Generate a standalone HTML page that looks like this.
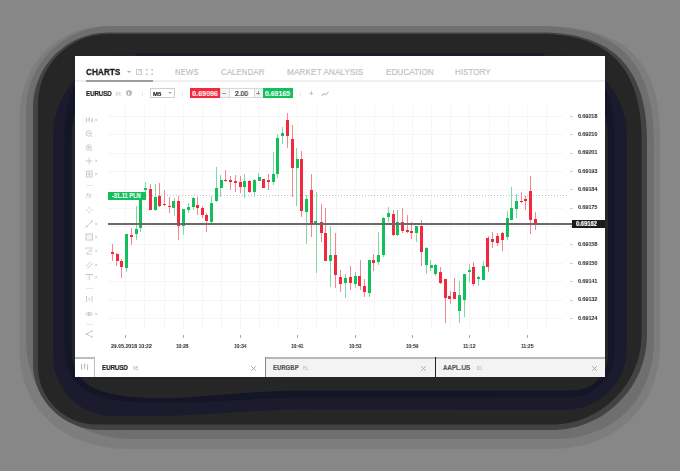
<!DOCTYPE html>
<html><head><meta charset="utf-8"><style>
html,body{margin:0;padding:0;}
body{width:680px;height:471px;overflow:hidden;position:relative;background:#878787;font-family:"Liberation Sans",sans-serif;}
.b{position:absolute;box-sizing:content-box;}
.t{position:absolute;white-space:nowrap;transform-origin:0 0;will-change:transform;}
</style></head><body>
<svg class="b" style="left:0;top:0" width="680" height="471" viewBox="0 0 680 471"><defs><clipPath id="nc"><path d="M53,136 A83,83 0 0 1 136,53 L544,53 A83,83 0 0 1 627,136 L627,348 A62,62 0 0 1 565,410 L300,409.5 C250,410 210,415 160,416 L113,416 A60,60 0 0 1 53,356 Z"/></clipPath></defs><path d="M19.5,121 C19.5,64.00 55.50,26 109.5,26 L540,26 C624.00,26 660,59.00 660,136 L660,344 C660,407.00 616.00,449 550,449 L129.5,449 C63.50,449 19.5,409.00 19.5,349 Z" fill="#7d7d7d"/><path d="M26,111 C26,64.25 64.25,26 111,26 L539,26 C619.50,26 654,62.00 654,146 L654,339 C654,399.00 614.00,439 554,439 L136,439 C70.00,439 26,399.00 26,339 Z" fill="#6f6f6f"/><path d="M33,107.5 C33,66.25 66.75,32.5 108,32.5 L542,32.5 C612.35,32.5 647,68.14 647,140.5 L647,335 C647,387.25 604.25,430 552,430 L101,430 C63.60,430 33,400.30 33,364 Z" fill="#434343"/><path d="M38,104 C38,65.50 69.50,34 108,34 L541.5,34 C608.50,34 641.5,68.65 641.5,139 L641.5,334.5 C641.5,384.00 601.00,424.5 551.5,424.5 L96,424.5 C64.10,424.5 38,398.40 38,366.5 Z" fill="#262626"/><path d="M53,136 A83,83 0 0 1 136,53 L544,53 A83,83 0 0 1 627,136 L627,348 A62,62 0 0 1 565,410 L300,409.5 C250,410 210,415 160,416 L113,416 A60,60 0 0 1 53,356 Z" fill="#1b1b2d"/><g clip-path="url(#nc)"><path d="M64.5,133.5 A120,120 0 0 1 184.5,13.5 L494.6,13.5 A120,120 0 0 1 614.6,133.5 L614.6,352 A45,45 0 0 1 569.6,397 L300,397.5 C250,398 210,403 160,403 C100,402 64.5,395 64.5,345 Z" fill="#151528"/><path d="M71.6,140 A120,120 0 0 1 191.6,20 L488,20 A120,120 0 0 1 608,140 L608,355.5 A35,35 0 0 1 573,390.5 L300,390.5 C250,391 210,397 160,398.5 C105,397 71.6,390 71.6,349 Z" fill="#262626"/></g></svg>
<div class="b" style="left:136px;top:53px;width:408px;height:3px;background:#1b1b2d;"></div>
<div class="b" style="left:75px;top:56px;width:530px;height:321px;background:#fff;"></div>
<div class="t" style="left:86.00px;top:68.00px;font-size:9.2px;line-height:9.2px;color:#1a1a1a;font-weight:bold;-webkit-text-stroke:0.3px #1a1a1a;transform:scaleX(0.8948);">CHARTS</div>
<div class="b" style="left:126.5px;top:70.5px;width:0;height:0;border-left:2px solid transparent;border-right:2px solid transparent;border-top:2px solid #aaa"></div>
<svg class="b" style="left:135px;top:68px" width="8" height="8"><path d="M5 1.5H1.5V6.5H6.5V3" fill="none" stroke="#c8c8c8" stroke-width="1"/><path d="M3.5 4.5L6.5 1.5M4.5 1.5H6.5V3.5" fill="none" stroke="#c8c8c8" stroke-width="1"/></svg>
<svg class="b" style="left:146px;top:69px" width="7" height="6"><path d="M0.5 2V0.5H2M5 0.5H6.5V2M6.5 4V5.5H5M2 5.5H0.5V4" fill="none" stroke="#c8c8c8" stroke-width="1"/></svg>
<div class="b" style="left:75px;top:80px;width:530px;height:2px;background:#f0f0f0;"></div>
<div class="b" style="left:86px;top:80px;width:67px;height:2px;background:#9e9e9e;"></div>
<div class="t" style="left:175.00px;top:68.40px;font-size:9.2px;line-height:9.2px;color:#bababa;-webkit-text-stroke:0.15px #bababa;transform:scaleX(0.8623);">NEWS</div>
<div class="t" style="left:220.90px;top:68.40px;font-size:9.2px;line-height:9.2px;color:#bababa;-webkit-text-stroke:0.15px #bababa;transform:scaleX(0.8682);">CALENDAR</div>
<div class="t" style="left:287.00px;top:68.40px;font-size:9.2px;line-height:9.2px;color:#bababa;-webkit-text-stroke:0.15px #bababa;transform:scaleX(0.9049);">MARKET ANALYSIS</div>
<div class="t" style="left:385.60px;top:68.40px;font-size:9.2px;line-height:9.2px;color:#bababa;-webkit-text-stroke:0.15px #bababa;transform:scaleX(0.8935);">EDUCATION</div>
<div class="t" style="left:455.20px;top:68.40px;font-size:9.2px;line-height:9.2px;color:#bababa;-webkit-text-stroke:0.15px #bababa;transform:scaleX(0.8777);">HISTORY</div>
<div class="t" style="left:86.00px;top:89.50px;font-size:7.4px;line-height:7.4px;color:#1a1a1a;font-weight:bold;-webkit-text-stroke:0.2px #1a1a1a;transform:scaleX(0.8256);">EURUSD</div>
<div class="t" style="left:116.20px;top:91.50px;font-size:5px;line-height:5px;color:#b5b5b5;transform:scaleX(0.7825);">FX</div>
<div class="b" style="left:125.7px;top:90.3px;width:6px;height:6px;border-radius:50%;background:#bdbdbd"></div>
<div class="b" style="left:128.2px;top:91.5px;width:1px;height:3.5px;background:#fff;"></div>
<div class="b" style="left:141.5px;top:91.5px;width:1px;height:4px;background:#e6e6e6;"></div>
<div class="b" style="left:149.5px;top:88.3px;width:23px;height:7.5px;border:1px solid #d0d0d0"></div>
<div class="t" style="left:152.80px;top:90.60px;font-size:6px;line-height:6px;color:#1a1a1a;font-weight:bold;-webkit-text-stroke:0.15px #1a1a1a;transform:scaleX(0.9958);">M5</div>
<div class="b" style="left:167.8px;top:92px;width:0;height:0;border-left:2px solid transparent;border-right:2px solid transparent;border-top:2px solid #b0b0b0"></div>
<div class="b" style="left:182.3px;top:91.5px;width:1px;height:4px;background:#e6e6e6;"></div>
<div class="b" style="left:190px;top:88px;width:30px;height:10px;background:#f2283f;"></div>
<div class="t" style="left:192.00px;top:89.50px;font-size:7.4px;line-height:7.4px;color:#fff;font-weight:bold;-webkit-text-stroke:0.1px #fff;transform:scaleX(0.9720);">0.69096</div>
<div class="b" style="left:220px;top:88px;width:7.5px;height:8px;border:1px solid #d8d8d8;background:#f4f4f4"></div>
<div class="b" style="left:221.8px;top:92.5px;width:4px;height:1px;background:#999;"></div>
<div class="b" style="left:228.5px;top:88px;width:25px;height:8px;border:1px solid #d8d8d8;border-left:0;border-right:0"></div>
<div class="t" style="left:234.50px;top:89.60px;font-size:7px;line-height:7px;color:#222;-webkit-text-stroke:0.2px #222;transform:scaleX(0.9542);">2.00</div>
<div class="b" style="left:254px;top:88px;width:7.5px;height:8px;border:1px solid #d8d8d8;background:#f4f4f4"></div>
<div class="b" style="left:256px;top:92.5px;width:4px;height:1px;background:#999;"></div>
<div class="b" style="left:257.5px;top:91px;width:1px;height:4px;background:#999;"></div>
<div class="b" style="left:262.6px;top:88px;width:30px;height:10px;background:#13bf5b;"></div>
<div class="t" style="left:264.80px;top:89.50px;font-size:7.4px;line-height:7.4px;color:#fff;font-weight:bold;-webkit-text-stroke:0.1px #fff;transform:scaleX(0.9421);">0.69165</div>
<div class="b" style="left:299.5px;top:91.5px;width:1px;height:4px;background:#e6e6e6;"></div>
<div class="b" style="left:308.7px;top:92.7px;width:4.6px;height:1px;background:#c4c4c4;"></div>
<div class="b" style="left:310.5px;top:90.9px;width:1px;height:4.6px;background:#c4c4c4;"></div>
<svg class="b" style="left:321px;top:90.5px" width="8" height="5.5"><path d="M0.5 5L2.8 2.5L4.6 3.8L7.5 0.8" fill="none" stroke="#c0c0c0" stroke-width="1.1"/></svg>
<div class="b" style="left:125px;top:105px;width:1px;height:224px;background:#f6f6f6;"></div>
<div class="b" style="left:144px;top:105px;width:1px;height:224px;background:#f6f6f6;"></div>
<div class="b" style="left:164px;top:105px;width:1px;height:224px;background:#f6f6f6;"></div>
<div class="b" style="left:183px;top:105px;width:1px;height:224px;background:#f6f6f6;"></div>
<div class="b" style="left:202px;top:105px;width:1px;height:224px;background:#f6f6f6;"></div>
<div class="b" style="left:221px;top:105px;width:1px;height:224px;background:#f6f6f6;"></div>
<div class="b" style="left:240px;top:105px;width:1px;height:224px;background:#f6f6f6;"></div>
<div class="b" style="left:259px;top:105px;width:1px;height:224px;background:#f6f6f6;"></div>
<div class="b" style="left:278px;top:105px;width:1px;height:224px;background:#f6f6f6;"></div>
<div class="b" style="left:297px;top:105px;width:1px;height:224px;background:#f6f6f6;"></div>
<div class="b" style="left:316px;top:105px;width:1px;height:224px;background:#f6f6f6;"></div>
<div class="b" style="left:336px;top:105px;width:1px;height:224px;background:#f6f6f6;"></div>
<div class="b" style="left:355px;top:105px;width:1px;height:224px;background:#f6f6f6;"></div>
<div class="b" style="left:374px;top:105px;width:1px;height:224px;background:#f6f6f6;"></div>
<div class="b" style="left:393px;top:105px;width:1px;height:224px;background:#f6f6f6;"></div>
<div class="b" style="left:412px;top:105px;width:1px;height:224px;background:#f6f6f6;"></div>
<div class="b" style="left:431px;top:105px;width:1px;height:224px;background:#f6f6f6;"></div>
<div class="b" style="left:450px;top:105px;width:1px;height:224px;background:#f6f6f6;"></div>
<div class="b" style="left:469px;top:105px;width:1px;height:224px;background:#f6f6f6;"></div>
<div class="b" style="left:489px;top:105px;width:1px;height:224px;background:#f6f6f6;"></div>
<div class="b" style="left:508px;top:105px;width:1px;height:224px;background:#f6f6f6;"></div>
<div class="b" style="left:527px;top:105px;width:1px;height:224px;background:#f6f6f6;"></div>
<div class="b" style="left:546px;top:105px;width:1px;height:224px;background:#f6f6f6;"></div>
<div class="b" style="left:108px;top:116px;width:455px;height:1px;background:#f6f6f6;"></div>
<div class="b" style="left:108px;top:134px;width:455px;height:1px;background:#f6f6f6;"></div>
<div class="b" style="left:108px;top:153px;width:455px;height:1px;background:#f6f6f6;"></div>
<div class="b" style="left:108px;top:171px;width:455px;height:1px;background:#f6f6f6;"></div>
<div class="b" style="left:108px;top:189px;width:455px;height:1px;background:#f6f6f6;"></div>
<div class="b" style="left:108px;top:208px;width:455px;height:1px;background:#f6f6f6;"></div>
<div class="b" style="left:108px;top:226px;width:455px;height:1px;background:#f6f6f6;"></div>
<div class="b" style="left:108px;top:244px;width:455px;height:1px;background:#f6f6f6;"></div>
<div class="b" style="left:108px;top:263px;width:455px;height:1px;background:#f6f6f6;"></div>
<div class="b" style="left:108px;top:281px;width:455px;height:1px;background:#f6f6f6;"></div>
<div class="b" style="left:108px;top:300px;width:455px;height:1px;background:#f6f6f6;"></div>
<div class="b" style="left:108px;top:318px;width:455px;height:1px;background:#f6f6f6;"></div>
<div class="b" style="left:569.5px;top:116px;width:3.5px;height:1px;background:#d0d0d0;"></div>
<div class="t" style="left:578.10px;top:112.60px;font-size:6px;line-height:6px;color:#222;font-weight:bold;transform:scaleX(0.8945);">0.69218</div>
<div class="b" style="left:569.5px;top:134px;width:3.5px;height:1px;background:#d0d0d0;"></div>
<div class="t" style="left:578.10px;top:130.97px;font-size:6px;line-height:6px;color:#222;font-weight:bold;transform:scaleX(0.8945);">0.69210</div>
<div class="b" style="left:569.5px;top:153px;width:3.5px;height:1px;background:#d0d0d0;"></div>
<div class="t" style="left:578.10px;top:149.34px;font-size:6px;line-height:6px;color:#222;font-weight:bold;transform:scaleX(0.8945);">0.69201</div>
<div class="b" style="left:569.5px;top:171px;width:3.5px;height:1px;background:#d0d0d0;"></div>
<div class="t" style="left:578.10px;top:167.71px;font-size:6px;line-height:6px;color:#222;font-weight:bold;transform:scaleX(0.8945);">0.69193</div>
<div class="b" style="left:569.5px;top:189px;width:3.5px;height:1px;background:#d0d0d0;"></div>
<div class="t" style="left:578.10px;top:186.08px;font-size:6px;line-height:6px;color:#222;font-weight:bold;transform:scaleX(0.8945);">0.69184</div>
<div class="b" style="left:569.5px;top:208px;width:3.5px;height:1px;background:#d0d0d0;"></div>
<div class="t" style="left:578.10px;top:204.45px;font-size:6px;line-height:6px;color:#222;font-weight:bold;transform:scaleX(0.8945);">0.69175</div>
<div class="b" style="left:569.5px;top:226px;width:3.5px;height:1px;background:#d0d0d0;"></div>
<div class="t" style="left:578.10px;top:222.82px;font-size:6px;line-height:6px;color:#222;font-weight:bold;transform:scaleX(0.8945);">0.69167</div>
<div class="b" style="left:569.5px;top:244px;width:3.5px;height:1px;background:#d0d0d0;"></div>
<div class="t" style="left:578.10px;top:241.19px;font-size:6px;line-height:6px;color:#222;font-weight:bold;transform:scaleX(0.8945);">0.69158</div>
<div class="b" style="left:569.5px;top:263px;width:3.5px;height:1px;background:#d0d0d0;"></div>
<div class="t" style="left:578.10px;top:259.56px;font-size:6px;line-height:6px;color:#222;font-weight:bold;transform:scaleX(0.8945);">0.69150</div>
<div class="b" style="left:569.5px;top:281px;width:3.5px;height:1px;background:#d0d0d0;"></div>
<div class="t" style="left:578.10px;top:277.93px;font-size:6px;line-height:6px;color:#222;font-weight:bold;transform:scaleX(0.8945);">0.69141</div>
<div class="b" style="left:569.5px;top:300px;width:3.5px;height:1px;background:#d0d0d0;"></div>
<div class="t" style="left:578.10px;top:296.30px;font-size:6px;line-height:6px;color:#222;font-weight:bold;transform:scaleX(0.8945);">0.69132</div>
<div class="b" style="left:569.5px;top:318px;width:3.5px;height:1px;background:#d0d0d0;"></div>
<div class="t" style="left:578.10px;top:314.67px;font-size:6px;line-height:6px;color:#222;font-weight:bold;transform:scaleX(0.8945);">0.69124</div>
<div class="b" style="left:146px;top:195px;width:422px;height:1px;background:repeating-linear-gradient(90deg,#bdbdbd 0 1px,transparent 1px 3px)"></div>
<div class="b" style="left:112px;top:244px;width:1px;height:17px;background:#f58592;"></div>
<div class="b" style="left:111px;top:252px;width:3px;height:2px;background:#f2283f;"></div>
<div class="b" style="left:116px;top:253px;width:1px;height:13px;background:#f58592;"></div>
<div class="b" style="left:116px;top:254px;width:3px;height:7px;background:#f2283f;"></div>
<div class="b" style="left:121px;top:259px;width:1px;height:19px;background:#f58592;"></div>
<div class="b" style="left:120px;top:261px;width:3px;height:6px;background:#f2283f;"></div>
<div class="b" style="left:126px;top:234px;width:1px;height:38px;background:#7fd9a3;"></div>
<div class="b" style="left:125px;top:234px;width:3px;height:34px;background:#13bf5b;"></div>
<div class="b" style="left:131px;top:228px;width:1px;height:17px;background:#f58592;"></div>
<div class="b" style="left:130px;top:235px;width:3px;height:2px;background:#f2283f;"></div>
<div class="b" style="left:136px;top:206px;width:1px;height:34px;background:#7fd9a3;"></div>
<div class="b" style="left:135px;top:229px;width:3px;height:5px;background:#13bf5b;"></div>
<div class="b" style="left:140px;top:192px;width:1px;height:40px;background:#7fd9a3;"></div>
<div class="b" style="left:139px;top:192px;width:3px;height:36px;background:#13bf5b;"></div>
<div class="b" style="left:145px;top:182px;width:1px;height:10px;background:#7fd9a3;"></div>
<div class="b" style="left:144px;top:188px;width:3px;height:2px;background:#13bf5b;"></div>
<div class="b" style="left:150px;top:184px;width:1px;height:26px;background:#f58592;"></div>
<div class="b" style="left:149px;top:189px;width:3px;height:21px;background:#f2283f;"></div>
<div class="b" style="left:155px;top:184px;width:1px;height:27px;background:#7fd9a3;"></div>
<div class="b" style="left:154px;top:197px;width:3px;height:13px;background:#13bf5b;"></div>
<div class="b" style="left:159px;top:183px;width:1px;height:24px;background:#f58592;"></div>
<div class="b" style="left:158px;top:196px;width:3px;height:10px;background:#f2283f;"></div>
<div class="b" style="left:164px;top:190px;width:1px;height:16px;background:#f58592;"></div>
<div class="b" style="left:163px;top:204px;width:3px;height:1px;background:#f2283f;"></div>
<div class="b" style="left:169px;top:197px;width:1px;height:16px;background:#f58592;"></div>
<div class="b" style="left:168px;top:206px;width:3px;height:1px;background:#f2283f;"></div>
<div class="b" style="left:174px;top:198px;width:1px;height:18px;background:#7fd9a3;"></div>
<div class="b" style="left:172px;top:201px;width:3px;height:7px;background:#13bf5b;"></div>
<div class="b" style="left:178px;top:196px;width:1px;height:44px;background:#f58592;"></div>
<div class="b" style="left:177px;top:201px;width:3px;height:25px;background:#f2283f;"></div>
<div class="b" style="left:183px;top:209px;width:1px;height:26px;background:#7fd9a3;"></div>
<div class="b" style="left:182px;top:209px;width:3px;height:17px;background:#13bf5b;"></div>
<div class="b" style="left:188px;top:203px;width:1px;height:10px;background:#7fd9a3;"></div>
<div class="b" style="left:187px;top:207px;width:3px;height:3px;background:#13bf5b;"></div>
<div class="b" style="left:193px;top:197px;width:1px;height:13px;background:#7fd9a3;"></div>
<div class="b" style="left:192px;top:198px;width:3px;height:9px;background:#13bf5b;"></div>
<div class="b" style="left:197px;top:197px;width:1px;height:18px;background:#f58592;"></div>
<div class="b" style="left:196px;top:205px;width:3px;height:3px;background:#f2283f;"></div>
<div class="b" style="left:202px;top:206px;width:1px;height:12px;background:#f58592;"></div>
<div class="b" style="left:201px;top:208px;width:3px;height:7px;background:#f2283f;"></div>
<div class="b" style="left:206px;top:213px;width:1px;height:19px;background:#f58592;"></div>
<div class="b" style="left:205px;top:215px;width:3px;height:6px;background:#f2283f;"></div>
<div class="b" style="left:211px;top:196px;width:1px;height:29px;background:#7fd9a3;"></div>
<div class="b" style="left:210px;top:203px;width:3px;height:19px;background:#13bf5b;"></div>
<div class="b" style="left:216px;top:167px;width:1px;height:35px;background:#7fd9a3;"></div>
<div class="b" style="left:215px;top:188px;width:3px;height:13px;background:#13bf5b;"></div>
<div class="b" style="left:220px;top:175px;width:1px;height:22px;background:#7fd9a3;"></div>
<div class="b" style="left:220px;top:180px;width:3px;height:8px;background:#13bf5b;"></div>
<div class="b" style="left:225px;top:170px;width:1px;height:12px;background:#f58592;"></div>
<div class="b" style="left:224px;top:180px;width:3px;height:1px;background:#f2283f;"></div>
<div class="b" style="left:230px;top:176px;width:1px;height:14px;background:#f58592;"></div>
<div class="b" style="left:229px;top:180px;width:3px;height:2px;background:#f2283f;"></div>
<div class="b" style="left:235px;top:175px;width:1px;height:17px;background:#f58592;"></div>
<div class="b" style="left:234px;top:181px;width:3px;height:2px;background:#f2283f;"></div>
<div class="b" style="left:240px;top:176px;width:1px;height:17px;background:#f58592;"></div>
<div class="b" style="left:239px;top:182px;width:3px;height:5px;background:#f2283f;"></div>
<div class="b" style="left:244px;top:174px;width:1px;height:24px;background:#7fd9a3;"></div>
<div class="b" style="left:243px;top:181px;width:3px;height:6px;background:#13bf5b;"></div>
<div class="b" style="left:249px;top:180px;width:1px;height:13px;background:#f58592;"></div>
<div class="b" style="left:248px;top:181px;width:3px;height:11px;background:#f2283f;"></div>
<div class="b" style="left:254px;top:179px;width:1px;height:18px;background:#7fd9a3;"></div>
<div class="b" style="left:253px;top:180px;width:3px;height:12px;background:#13bf5b;"></div>
<div class="b" style="left:258px;top:173px;width:1px;height:8px;background:#7fd9a3;"></div>
<div class="b" style="left:258px;top:177px;width:3px;height:4px;background:#13bf5b;"></div>
<div class="b" style="left:263px;top:179px;width:1px;height:9px;background:#f58592;"></div>
<div class="b" style="left:262px;top:179px;width:3px;height:9px;background:#f2283f;"></div>
<div class="b" style="left:268px;top:174px;width:1px;height:16px;background:#f58592;"></div>
<div class="b" style="left:267px;top:180px;width:3px;height:2px;background:#f2283f;"></div>
<div class="b" style="left:273px;top:152px;width:1px;height:33px;background:#7fd9a3;"></div>
<div class="b" style="left:272px;top:174px;width:3px;height:8px;background:#13bf5b;"></div>
<div class="b" style="left:277px;top:134px;width:1px;height:44px;background:#7fd9a3;"></div>
<div class="b" style="left:276px;top:138px;width:3px;height:36px;background:#13bf5b;"></div>
<div class="b" style="left:282px;top:127px;width:1px;height:17px;background:#7fd9a3;"></div>
<div class="b" style="left:281px;top:133px;width:3px;height:3px;background:#13bf5b;"></div>
<div class="b" style="left:287px;top:113px;width:1px;height:35px;background:#f58592;"></div>
<div class="b" style="left:286px;top:120px;width:3px;height:16px;background:#f2283f;"></div>
<div class="b" style="left:292px;top:125px;width:1px;height:72px;background:#f58592;"></div>
<div class="b" style="left:291px;top:139px;width:3px;height:29px;background:#f2283f;"></div>
<div class="b" style="left:296px;top:148px;width:1px;height:58px;background:#7fd9a3;"></div>
<div class="b" style="left:296px;top:159px;width:3px;height:9px;background:#13bf5b;"></div>
<div class="b" style="left:301px;top:151px;width:1px;height:66px;background:#f58592;"></div>
<div class="b" style="left:300px;top:159px;width:3px;height:52px;background:#f2283f;"></div>
<div class="b" style="left:306px;top:195px;width:1px;height:49px;background:#7fd9a3;"></div>
<div class="b" style="left:305px;top:199px;width:3px;height:13px;background:#13bf5b;"></div>
<div class="b" style="left:311px;top:174px;width:1px;height:63px;background:#f58592;"></div>
<div class="b" style="left:310px;top:190px;width:3px;height:33px;background:#f2283f;"></div>
<div class="b" style="left:316px;top:192px;width:1px;height:81px;background:#7fd9a3;"></div>
<div class="b" style="left:314px;top:221px;width:3px;height:3px;background:#13bf5b;"></div>
<div class="b" style="left:321px;top:204px;width:1px;height:38px;background:#f58592;"></div>
<div class="b" style="left:320px;top:222px;width:3px;height:11px;background:#f2283f;"></div>
<div class="b" style="left:325px;top:208px;width:1px;height:53px;background:#f58592;"></div>
<div class="b" style="left:324px;top:233px;width:3px;height:28px;background:#f2283f;"></div>
<div class="b" style="left:330px;top:226px;width:1px;height:61px;background:#7fd9a3;"></div>
<div class="b" style="left:329px;top:255px;width:3px;height:6px;background:#13bf5b;"></div>
<div class="b" style="left:335px;top:233px;width:1px;height:55px;background:#f58592;"></div>
<div class="b" style="left:334px;top:255px;width:3px;height:20px;background:#f2283f;"></div>
<div class="b" style="left:340px;top:270px;width:1px;height:22px;background:#f58592;"></div>
<div class="b" style="left:339px;top:277px;width:3px;height:7px;background:#f2283f;"></div>
<div class="b" style="left:345px;top:274px;width:1px;height:24px;background:#7fd9a3;"></div>
<div class="b" style="left:344px;top:278px;width:3px;height:5px;background:#13bf5b;"></div>
<div class="b" style="left:350px;top:266px;width:1px;height:24px;background:#f58592;"></div>
<div class="b" style="left:349px;top:277px;width:3px;height:6px;background:#f2283f;"></div>
<div class="b" style="left:355px;top:272px;width:1px;height:16px;background:#7fd9a3;"></div>
<div class="b" style="left:354px;top:276px;width:3px;height:8px;background:#13bf5b;"></div>
<div class="b" style="left:360px;top:260px;width:1px;height:30px;background:#f58592;"></div>
<div class="b" style="left:358px;top:276px;width:3px;height:10px;background:#f2283f;"></div>
<div class="b" style="left:364px;top:279px;width:1px;height:18px;background:#f58592;"></div>
<div class="b" style="left:363px;top:286px;width:3px;height:6px;background:#f2283f;"></div>
<div class="b" style="left:369px;top:260px;width:1px;height:37px;background:#7fd9a3;"></div>
<div class="b" style="left:368px;top:260px;width:3px;height:33px;background:#13bf5b;"></div>
<div class="b" style="left:373px;top:254px;width:1px;height:17px;background:#f58592;"></div>
<div class="b" style="left:372px;top:260px;width:3px;height:3px;background:#f2283f;"></div>
<div class="b" style="left:378px;top:232px;width:1px;height:33px;background:#7fd9a3;"></div>
<div class="b" style="left:377px;top:255px;width:3px;height:7px;background:#13bf5b;"></div>
<div class="b" style="left:383px;top:217px;width:1px;height:40px;background:#7fd9a3;"></div>
<div class="b" style="left:382px;top:218px;width:3px;height:37px;background:#13bf5b;"></div>
<div class="b" style="left:388px;top:207px;width:1px;height:15px;background:#7fd9a3;"></div>
<div class="b" style="left:387px;top:213px;width:3px;height:4px;background:#13bf5b;"></div>
<div class="b" style="left:393px;top:210px;width:1px;height:26px;background:#f58592;"></div>
<div class="b" style="left:392px;top:214px;width:3px;height:21px;background:#f2283f;"></div>
<div class="b" style="left:397px;top:210px;width:1px;height:26px;background:#7fd9a3;"></div>
<div class="b" style="left:396px;top:222px;width:3px;height:13px;background:#13bf5b;"></div>
<div class="b" style="left:402px;top:208px;width:1px;height:25px;background:#f58592;"></div>
<div class="b" style="left:401px;top:222px;width:3px;height:9px;background:#f2283f;"></div>
<div class="b" style="left:407px;top:215px;width:1px;height:18px;background:#f58592;"></div>
<div class="b" style="left:406px;top:230px;width:3px;height:2px;background:#f2283f;"></div>
<div class="b" style="left:411px;top:222px;width:1px;height:17px;background:#f58592;"></div>
<div class="b" style="left:410px;top:231px;width:3px;height:2px;background:#f2283f;"></div>
<div class="b" style="left:416px;top:226px;width:1px;height:16px;background:#7fd9a3;"></div>
<div class="b" style="left:415px;top:226px;width:3px;height:7px;background:#13bf5b;"></div>
<div class="b" style="left:421px;top:220px;width:1px;height:46px;background:#f58592;"></div>
<div class="b" style="left:420px;top:226px;width:3px;height:26px;background:#f2283f;"></div>
<div class="b" style="left:426px;top:247px;width:1px;height:27px;background:#7fd9a3;"></div>
<div class="b" style="left:425px;top:248px;width:3px;height:17px;background:#13bf5b;"></div>
<div class="b" style="left:430px;top:260px;width:1px;height:11px;background:#7fd9a3;"></div>
<div class="b" style="left:430px;top:265px;width:3px;height:3px;background:#13bf5b;"></div>
<div class="b" style="left:435px;top:264px;width:1px;height:12px;background:#7fd9a3;"></div>
<div class="b" style="left:434px;top:265px;width:3px;height:9px;background:#13bf5b;"></div>
<div class="b" style="left:440px;top:267px;width:1px;height:17px;background:#f58592;"></div>
<div class="b" style="left:439px;top:272px;width:3px;height:11px;background:#f2283f;"></div>
<div class="b" style="left:445px;top:279px;width:1px;height:44px;background:#f58592;"></div>
<div class="b" style="left:444px;top:279px;width:3px;height:19px;background:#f2283f;"></div>
<div class="b" style="left:450px;top:291px;width:1px;height:13px;background:#f58592;"></div>
<div class="b" style="left:448px;top:296px;width:3px;height:3px;background:#f2283f;"></div>
<div class="b" style="left:454px;top:278px;width:1px;height:21px;background:#f58592;"></div>
<div class="b" style="left:453px;top:292px;width:3px;height:7px;background:#f2283f;"></div>
<div class="b" style="left:459px;top:281px;width:1px;height:42px;background:#7fd9a3;"></div>
<div class="b" style="left:458px;top:295px;width:3px;height:16px;background:#13bf5b;"></div>
<div class="b" style="left:464px;top:274px;width:1px;height:43px;background:#7fd9a3;"></div>
<div class="b" style="left:463px;top:274px;width:3px;height:26px;background:#13bf5b;"></div>
<div class="b" style="left:469px;top:264px;width:1px;height:18px;background:#7fd9a3;"></div>
<div class="b" style="left:468px;top:270px;width:3px;height:2px;background:#13bf5b;"></div>
<div class="b" style="left:473px;top:262px;width:1px;height:24px;background:#f58592;"></div>
<div class="b" style="left:472px;top:267px;width:3px;height:17px;background:#f2283f;"></div>
<div class="b" style="left:478px;top:276px;width:1px;height:10px;background:#7fd9a3;"></div>
<div class="b" style="left:477px;top:277px;width:3px;height:2px;background:#13bf5b;"></div>
<div class="b" style="left:483px;top:261px;width:1px;height:19px;background:#7fd9a3;"></div>
<div class="b" style="left:482px;top:266px;width:3px;height:14px;background:#13bf5b;"></div>
<div class="b" style="left:488px;top:236px;width:1px;height:36px;background:#f58592;"></div>
<div class="b" style="left:486px;top:238px;width:3px;height:29px;background:#f2283f;"></div>
<div class="b" style="left:492px;top:232px;width:1px;height:16px;background:#f58592;"></div>
<div class="b" style="left:491px;top:239px;width:3px;height:3px;background:#f2283f;"></div>
<div class="b" style="left:497px;top:233px;width:1px;height:13px;background:#f58592;"></div>
<div class="b" style="left:496px;top:236px;width:3px;height:7px;background:#f2283f;"></div>
<div class="b" style="left:502px;top:232px;width:1px;height:19px;background:#f58592;"></div>
<div class="b" style="left:501px;top:233px;width:3px;height:7px;background:#f2283f;"></div>
<div class="b" style="left:507px;top:211px;width:1px;height:29px;background:#7fd9a3;"></div>
<div class="b" style="left:506px;top:218px;width:3px;height:19px;background:#13bf5b;"></div>
<div class="b" style="left:511px;top:187px;width:1px;height:33px;background:#7fd9a3;"></div>
<div class="b" style="left:510px;top:208px;width:3px;height:12px;background:#13bf5b;"></div>
<div class="b" style="left:516px;top:194px;width:1px;height:24px;background:#7fd9a3;"></div>
<div class="b" style="left:515px;top:201px;width:3px;height:8px;background:#13bf5b;"></div>
<div class="b" style="left:521px;top:192px;width:1px;height:11px;background:#f58592;"></div>
<div class="b" style="left:520px;top:201px;width:3px;height:1px;background:#f2283f;"></div>
<div class="b" style="left:525px;top:196px;width:1px;height:14px;background:#f58592;"></div>
<div class="b" style="left:524px;top:199px;width:3px;height:2px;background:#f2283f;"></div>
<div class="b" style="left:530px;top:176px;width:1px;height:58px;background:#f58592;"></div>
<div class="b" style="left:529px;top:191px;width:3px;height:29px;background:#f2283f;"></div>
<div class="b" style="left:535px;top:212px;width:1px;height:18px;background:#f58592;"></div>
<div class="b" style="left:534px;top:219px;width:3px;height:4px;background:#f2283f;"></div>
<div class="b" style="left:108px;top:223px;width:464px;height:1.5px;background:#6a6a6a;"></div>
<div class="b" style="left:572px;top:219.5px;width:33px;height:8px;background:#1b1b1b;"></div>
<div class="t" style="left:575.80px;top:221.40px;font-size:6.4px;line-height:6.4px;color:#fff;font-weight:bold;-webkit-text-stroke:0.2px #fff;transform:scaleX(0.9077);">0.69162</div>
<div class="b" style="left:108px;top:191.5px;width:38px;height:8.2px;background:#13bf5b;"></div>
<div class="t" style="left:111.70px;top:193.30px;font-size:6.3px;line-height:6.3px;color:#fff;font-weight:bold;-webkit-text-stroke:0.1px #fff;transform:scaleX(0.9038);">-31.11 PLN</div>
<div class="b" style="left:125px;top:335px;width:1px;height:3px;background:#aaa;"></div>
<div class="t" style="left:111.00px;top:342.90px;font-size:6px;line-height:6px;color:#222;font-weight:bold;transform:scaleX(0.8673);">29.05.2018 10:22</div>
<div class="b" style="left:183px;top:335px;width:1px;height:3px;background:#aaa;"></div>
<div class="t" style="left:175.70px;top:342.90px;font-size:6px;line-height:6px;color:#222;font-weight:bold;transform:scaleX(0.8145);">10:28</div>
<div class="b" style="left:240px;top:335px;width:1px;height:3px;background:#aaa;"></div>
<div class="t" style="left:233.80px;top:342.90px;font-size:6px;line-height:6px;color:#222;font-weight:bold;transform:scaleX(0.8145);">10:34</div>
<div class="b" style="left:297px;top:335px;width:1px;height:3px;background:#aaa;"></div>
<div class="t" style="left:291.20px;top:342.90px;font-size:6px;line-height:6px;color:#222;font-weight:bold;transform:scaleX(0.8145);">10:41</div>
<div class="b" style="left:355px;top:335px;width:1px;height:3px;background:#aaa;"></div>
<div class="t" style="left:348.50px;top:342.90px;font-size:6px;line-height:6px;color:#222;font-weight:bold;transform:scaleX(0.8145);">10:53</div>
<div class="b" style="left:412px;top:335px;width:1px;height:3px;background:#aaa;"></div>
<div class="t" style="left:405.80px;top:342.90px;font-size:6px;line-height:6px;color:#222;font-weight:bold;transform:scaleX(0.8145);">10:59</div>
<div class="b" style="left:469px;top:335px;width:1px;height:3px;background:#aaa;"></div>
<div class="t" style="left:463.20px;top:342.90px;font-size:6px;line-height:6px;color:#222;font-weight:bold;transform:scaleX(0.8325);">11:12</div>
<div class="b" style="left:527px;top:335px;width:1px;height:3px;background:#aaa;"></div>
<div class="t" style="left:520.50px;top:342.90px;font-size:6px;line-height:6px;color:#222;font-weight:bold;transform:scaleX(0.8325);">11:25</div>
<svg class="b" style="left:84px;top:115.10px" width="11" height="10" viewBox="84 115.10 11 10"><g fill="none" stroke="#cacaca" stroke-width="1"><path d="M86.5,117.6 V122.6 M89.25,117.1 V122.1 M92,118.1 V122.6" stroke-width="0.8"/></g><rect x="85.8" y="118.89999999999999" width="1.4" height="2.4" fill="#cacaca"/><rect x="88.55" y="118.3" width="1.4" height="2.4" fill="#cacaca"/><rect x="91.3" y="119.3" width="1.4" height="2.4" fill="#cacaca"/></svg>
<svg class="b" style="left:95px;top:118.10px" width="3" height="4"><path d="M0.5,0.5 L2.5,2 L0.5,3.5Z" fill="#cacaca"/></svg>
<svg class="b" style="left:84px;top:128.60px" width="11" height="10" viewBox="84 128.60 11 10"><g fill="none" stroke="#cacaca" stroke-width="1"><circle cx="88.7" cy="133.1" r="2.7"/><path d="M90.6,135.0 L92.3,136.7 M87.3,133.1 H90.1"/></g></svg>
<svg class="b" style="left:84px;top:142.50px" width="11" height="10" viewBox="84 142.50 11 10"><g fill="none" stroke="#cacaca" stroke-width="1"><circle cx="88.7" cy="147.0" r="2.7"/><path d="M90.6,148.9 L92.3,150.6 M87.3,147.0 H90.1 M88.7,145.6 V148.4"/></g></svg>
<svg class="b" style="left:84px;top:155.80px" width="11" height="10" viewBox="84 155.80 11 10"><g fill="none" stroke="#cacaca" stroke-width="1"><path d="M85.8,160.8 H92.6 M89.2,157.4 V164.20000000000002"/></g></svg>
<svg class="b" style="left:95px;top:158.80px" width="3" height="4"><path d="M0.5,0.5 L2.5,2 L0.5,3.5Z" fill="#cacaca"/></svg>
<svg class="b" style="left:84px;top:169.20px" width="11" height="10" viewBox="84 169.20 11 10"><g fill="none" stroke="#cacaca" stroke-width="1"><rect x="86.5" y="171.2" width="5.5" height="6"/><path d="M89.2,172.2 V176.2 M87.2,174.2 H91.2"/></g></svg>
<svg class="b" style="left:95px;top:172.20px" width="3" height="4"><path d="M0.5,0.5 L2.5,2 L0.5,3.5Z" fill="#cacaca"/></svg>
<div class="b" style="left:85.5px;top:185px;width:7px;height:1px;background:#e8e8e8;"></div>
<div class="t" style="left:85.6px;top:192.3px;font-size:7.4px;line-height:7.4px;color:#c4c4c4;font-style:italic;">fx</div>
<svg class="b" style="left:84px;top:204.70px" width="11" height="10" viewBox="84 204.70 11 10"><g fill="none" stroke="#cacaca" stroke-width="1"><path d="M85.8,209.7 H87.8 M90.6,209.7 H92.6 M89.2,206.29999999999998 V208.29999999999998 M89.2,211.1 V213.1"/></g></svg>
<svg class="b" style="left:84px;top:218.50px" width="11" height="10" viewBox="84 218.50 11 10"><g fill="none" stroke="#cacaca" stroke-width="1"><path d="M86.5,226.0 L91.8,220.7"/></g><circle cx="86.5" cy="226.0" r="1" fill="#cacaca"/><circle cx="91.8" cy="220.7" r="1" fill="#cacaca"/></svg>
<svg class="b" style="left:95px;top:221.50px" width="3" height="4"><path d="M0.5,0.5 L2.5,2 L0.5,3.5Z" fill="#cacaca"/></svg>
<svg class="b" style="left:84px;top:232.00px" width="11" height="10" viewBox="84 232.00 11 10"><g fill="none" stroke="#cacaca" stroke-width="1"><rect x="86" y="234" width="6.5" height="6"/></g><rect x="87" y="235" width="4.5" height="4" fill="#f3f3f3"/></svg>
<svg class="b" style="left:95px;top:235.00px" width="3" height="4"><path d="M0.5,0.5 L2.5,2 L0.5,3.5Z" fill="#cacaca"/></svg>
<svg class="b" style="left:84px;top:245.50px" width="11" height="10" viewBox="84 245.50 11 10"><g fill="none" stroke="#cacaca" stroke-width="1"><path d="M86.5,247.5 H92.5 M86,253.5 H92 M92,248.0 L86.5,253.0 M86,249.0 V247.0 M89.5,250.5 H92.5" stroke-width="0.9"/></g></svg>
<svg class="b" style="left:95px;top:248.50px" width="3" height="4"><path d="M0.5,0.5 L2.5,2 L0.5,3.5Z" fill="#cacaca"/></svg>
<svg class="b" style="left:84px;top:260.00px" width="11" height="10" viewBox="84 260.00 11 10"><g fill="none" stroke="#cacaca" stroke-width="1"><path d="M86,266.5 L91,261.5 M87.5,268.5 L92.5,263.5"/></g></svg>
<svg class="b" style="left:95px;top:263.00px" width="3" height="4"><path d="M0.5,0.5 L2.5,2 L0.5,3.5Z" fill="#cacaca"/></svg>
<svg class="b" style="left:84px;top:272.40px" width="11" height="10" viewBox="84 272.40 11 10"><g fill="none" stroke="#cacaca" stroke-width="1"><path d="M86,274.9 H92.5 M89.25,274.9 V280.7 M86,274.4 V275.9 M92.5,274.4 V275.9"/></g></svg>
<svg class="b" style="left:95px;top:275.40px" width="3" height="4"><path d="M0.5,0.5 L2.5,2 L0.5,3.5Z" fill="#cacaca"/></svg>
<div class="b" style="left:85.5px;top:288px;width:7px;height:1px;background:#e8e8e8;"></div>
<svg class="b" style="left:84px;top:294.30px" width="11" height="10" viewBox="84 294.30 11 10"><g fill="none" stroke="#cacaca" stroke-width="1"><path d="M86.5,296.3 V302.3 M89.2,297.8 V300.8 M92,296.3 V302.3"/></g></svg>
<svg class="b" style="left:84px;top:308.70px" width="11" height="10" viewBox="84 308.70 11 10"><g fill="none" stroke="#cacaca" stroke-width="1"><path d="M85.8,313.7 Q89.2,310.09999999999997 92.6,313.7 Q89.2,317.3 85.8,313.7Z"/></g><circle cx="89.2" cy="313.7" r="1.2" fill="#cacaca"/></svg>
<svg class="b" style="left:95px;top:311.70px" width="3" height="4"><path d="M0.5,0.5 L2.5,2 L0.5,3.5Z" fill="#cacaca"/></svg>
<div class="b" style="left:85.5px;top:323.5px;width:7px;height:1px;background:#e8e8e8;"></div>
<svg class="b" style="left:84px;top:329.10px" width="11" height="10" viewBox="84 329.10 11 10"><g fill="none" stroke="#cacaca" stroke-width="1"><path d="M86.5,334.1 L91.8,331.3 M86.5,334.1 L91.8,336.90000000000003"/></g><circle cx="86.5" cy="334.1" r="1" fill="#cacaca"/><circle cx="91.8" cy="331.3" r="1" fill="#cacaca"/><circle cx="91.8" cy="336.90000000000003" r="1" fill="#cacaca"/></svg>
<div class="b" style="left:75px;top:357px;width:530px;height:20px;background:#fff;"></div>
<div class="b" style="left:75px;top:357px;width:19px;height:1.5px;background:#bdbdbd;"></div>
<div class="b" style="left:93.5px;top:357px;width:1.2px;height:20px;background:#bdbdbd;"></div>
<svg class="b" style="left:80px;top:363px" width="9" height="8"><g stroke="#bbb" stroke-width="1"><path d="M1.5,1 V7 M4.5,0.5 V6 M7.5,1.5 V7"/></g><rect x="1" y="3" width="1.2" height="2.5" fill="#bbb"/><rect x="4" y="2" width="1.2" height="2.5" fill="#bbb"/><rect x="7" y="3.5" width="1.2" height="2.5" fill="#bbb"/></svg>
<div class="t" style="left:102.00px;top:364.10px;font-size:7.4px;line-height:7.4px;color:#1a1a1a;font-weight:bold;-webkit-text-stroke:0.2px #1a1a1a;transform:scaleX(0.8320);">EURUSD</div>
<div class="t" style="left:133.00px;top:367.00px;font-size:4.5px;line-height:4.5px;color:#aaa;transform:scaleX(0.7998);">M5</div>
<svg class="b" style="left:250.8px;top:365.5px" width="5" height="5"><path d="M0.3 0.3L4.7 4.7M4.7 0.3L0.3 4.7" stroke="#a8a8a8" stroke-width="1"/></svg>
<div class="b" style="left:264.5px;top:357px;width:340.5px;height:20px;background:#f3f3f3;"></div>
<div class="b" style="left:264.5px;top:357px;width:340.5px;height:1.5px;background:#b8b8b8;"></div>
<div class="b" style="left:264.5px;top:357px;width:1.2px;height:20px;background:#888;"></div>
<div class="t" style="left:273.00px;top:364.10px;font-size:7.4px;line-height:7.4px;color:#555;font-weight:bold;-webkit-text-stroke:0.2px #555;transform:scaleX(0.8149);">EURGBP</div>
<div class="t" style="left:303.00px;top:367.00px;font-size:4.5px;line-height:4.5px;color:#aaa;transform:scaleX(0.8692);">H1</div>
<svg class="b" style="left:421.3px;top:365.5px" width="5" height="5"><path d="M0.3 0.3L4.7 4.7M4.7 0.3L0.3 4.7" stroke="#a8a8a8" stroke-width="1"/></svg>
<div class="b" style="left:435px;top:357px;width:1.2px;height:20px;background:#222;"></div>
<div class="t" style="left:443.40px;top:364.10px;font-size:7.4px;line-height:7.4px;color:#555;font-weight:bold;-webkit-text-stroke:0.2px #555;transform:scaleX(0.8374);">AAPL.US</div>
<div class="t" style="left:476.50px;top:367.00px;font-size:4.5px;line-height:4.5px;color:#aaa;transform:scaleX(0.8692);">D1</div>
<svg class="b" style="left:591.8px;top:365.5px" width="5" height="5"><path d="M0.3 0.3L4.7 4.7M4.7 0.3L0.3 4.7" stroke="#a8a8a8" stroke-width="1"/></svg>
</body></html>
